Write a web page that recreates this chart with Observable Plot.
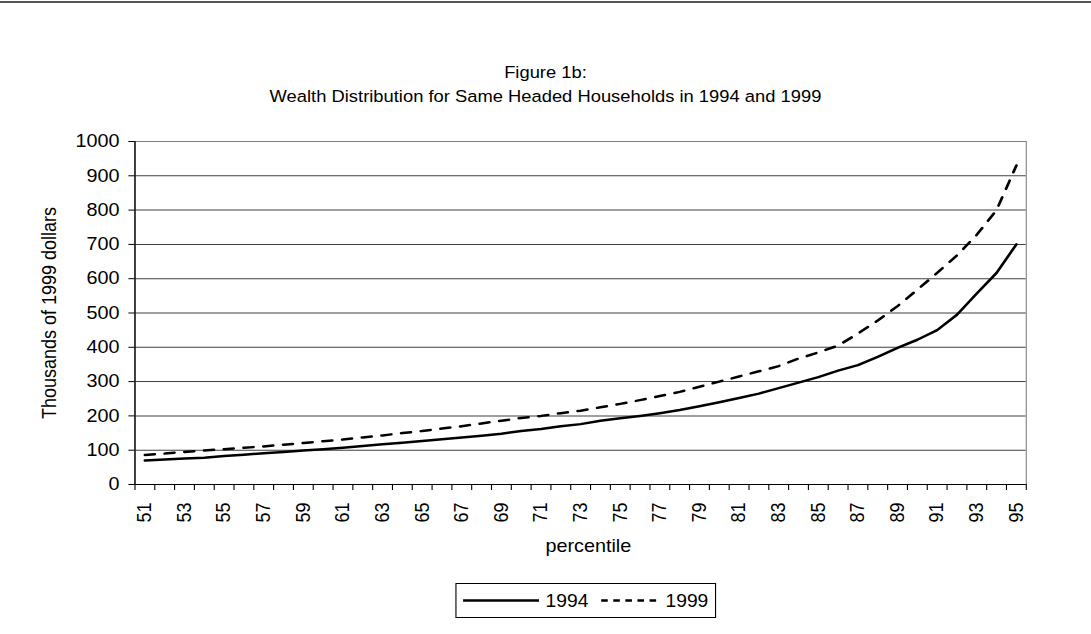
<!DOCTYPE html>
<html>
<head>
<meta charset="utf-8">
<script src="https://cdn.jsdelivr.net/npm/d3@7"></script>
<script src="https://cdn.jsdelivr.net/npm/@observablehq/plot@0.6"></script>
<style>
  html, body { margin: 0; padding: 0; background: #fff; }
  body { width: 1091px; height: 634px; overflow: hidden; position: relative;
         font-family: "Liberation Sans", Arial, sans-serif; color: #000; }
  #wrap { position: absolute; left: 0; top: 0; width: 991.8px; height: 634px;
          transform: scaleX(1.1); transform-origin: 0 0; }
  #chart { position: absolute; left: 0; top: 0; width: 991.8px; }
  #topline { position: absolute; left: 0; top: 1px; width: 991.8px; height: 2px; background: #555; }
  .tline { position: absolute; left: 0; width: 991.8px; text-align: center; font-size: 16.7px;
           height: 24px; line-height: 24px; white-space: nowrap; }
  #legend { position: absolute; left: 413.6px; top: 583px; width: 237.3px; height: 35px;
            box-sizing: border-box; border: 1px solid #000; background: #fff; }
</style>
</head>
<body>
<div id="wrap">
  <div id="chart"></div>
  <div id="topline"></div>
  <div class="tline" style="top:61px">Figure 1b:</div>
  <div class="tline" style="top:85px">Wealth Distribution for Same Headed Households in 1994 and 1999</div>
  <div id="legend"></div>
</div>
<script>
// ---- data ----
const percentiles = [51,52,53,54,55,56,57,58,59,60,61,62,63,64,65,66,67,68,69,70,
  71,72,73,74,75,76,77,78,79,80,81,82,83,84,85,86,87,88,89,90,91,92,93,94,95];
const wealth1994 = [70,73,76,78,83,87,91,95,99,103,107,112,117,122,127,132,137,142,148,156,
  162,170,176,186,193,200,208,217,228,240,252,265,281,297,313,332,348,372,398,422,450,495,557,617,700];
const wealth1999 = [86,90,95,99,103,107,111,116,121,126,131,137,143,150,156,163,170,178,186,194,
  200,208,215,225,235,246,258,270,285,300,315,330,345,367,385,405,440,478,520,568,617,668,728,800,930];
const yTicks = [0,100,200,300,400,500,600,700,800,900,1000];
const xTickLabels = percentiles.filter(p => p % 2 === 1);
const seriesNames = ["1994", "1999"];

// ---- layout (unscaled coordinates; the page is stretched by 1.1 horizontally) ----
const W = 991.8;
const FONT = "'Liberation Sans', Arial, sans-serif";

const rows94 = percentiles.map((p, i) => ({p, v: wealth1994[i], s: seriesNames[0]}));
const rows99 = percentiles.map((p, i) => ({p, v: wealth1999[i], s: seriesNames[1]}));
const bounds = [...percentiles.map(p => p - 0.5), percentiles[percentiles.length - 1] + 0.5];

const chart = Plot.plot({
  width: W,
  height: 570,
  marginLeft: 122.2,
  marginRight: 59.3,
  marginTop: 141,
  marginBottom: 86,
  style: {background: "transparent", fontFamily: FONT, color: "#000", maxWidth: "none", overflow: "visible"},
  x: {type: "linear", domain: [bounds[0], bounds[bounds.length - 1]]},
  y: {domain: [0, 1000]},
  marks: [
    Plot.ruleY(yTicks.slice(1), {stroke: "#404040", strokeWidth: 1}),
    Plot.frame({stroke: "#808080"}),
    Plot.ruleX([bounds[0]], {stroke: "#000", strokeWidth: 1.2}),
    Plot.ruleY([0], {stroke: "#000", strokeWidth: 1.2}),
    Plot.axisY({ticks: yTicks, tickSize: 5.5, tickPadding: 8.5, fontSize: 18,
                label: null, tickFormat: d => String(d)}),
    Plot.axisX({ticks: bounds, tickSize: 6, tickFormat: () => "", label: null}),
    Plot.axisX({ticks: xTickLabels, tickSize: 0, tickPadding: 18, tickRotate: -90,
                fontSize: 18, label: null, tickFormat: d => String(d)}),
    Plot.line(rows94, {x: "p", y: "v", stroke: "#000", strokeWidth: 2.5}),
    Plot.line(rows99, {x: "p", y: "v", stroke: "#000", strokeWidth: 2.5, strokeDasharray: "9,9"}),
    Plot.text(["Thousands of 1999 dollars"], {text: d => d, frameAnchor: "left", dx: -77.7,
                rotate: -90, textAnchor: "middle", lineAnchor: "middle", fontSize: 18}),
    Plot.text(["percentile"], {text: d => d, frameAnchor: "bottom", dy: 62, dx: 7,
                textAnchor: "middle", lineAnchor: "middle", fontSize: 18})
  ]
});
document.getElementById("chart").appendChild(chart);

// ---- legend ----
const lg = d3.select("#legend").append("svg")
  .attr("width", 235.3).attr("height", 33)
  .style("display", "block")
  .style("font-family", FONT);
lg.append("line").attr("x1", 6).attr("x2", 75).attr("y1", 16.5).attr("y2", 16.5)
  .attr("stroke", "#000").attr("stroke-width", 2.5);
lg.append("text").attr("x", 81).attr("y", 16.5).attr("dy", "0.35em")
  .attr("font-size", 17.5).text(seriesNames[0]);
lg.append("line").attr("x1", 131.5).attr("x2", 185).attr("y1", 16.5).attr("y2", 16.5)
  .attr("stroke", "#000").attr("stroke-width", 2.5).attr("stroke-dasharray", "6,5");
lg.append("text").attr("x", 190).attr("y", 16.5).attr("dy", "0.35em")
  .attr("font-size", 17.5).text(seriesNames[1]);
</script>
</body>
</html>
